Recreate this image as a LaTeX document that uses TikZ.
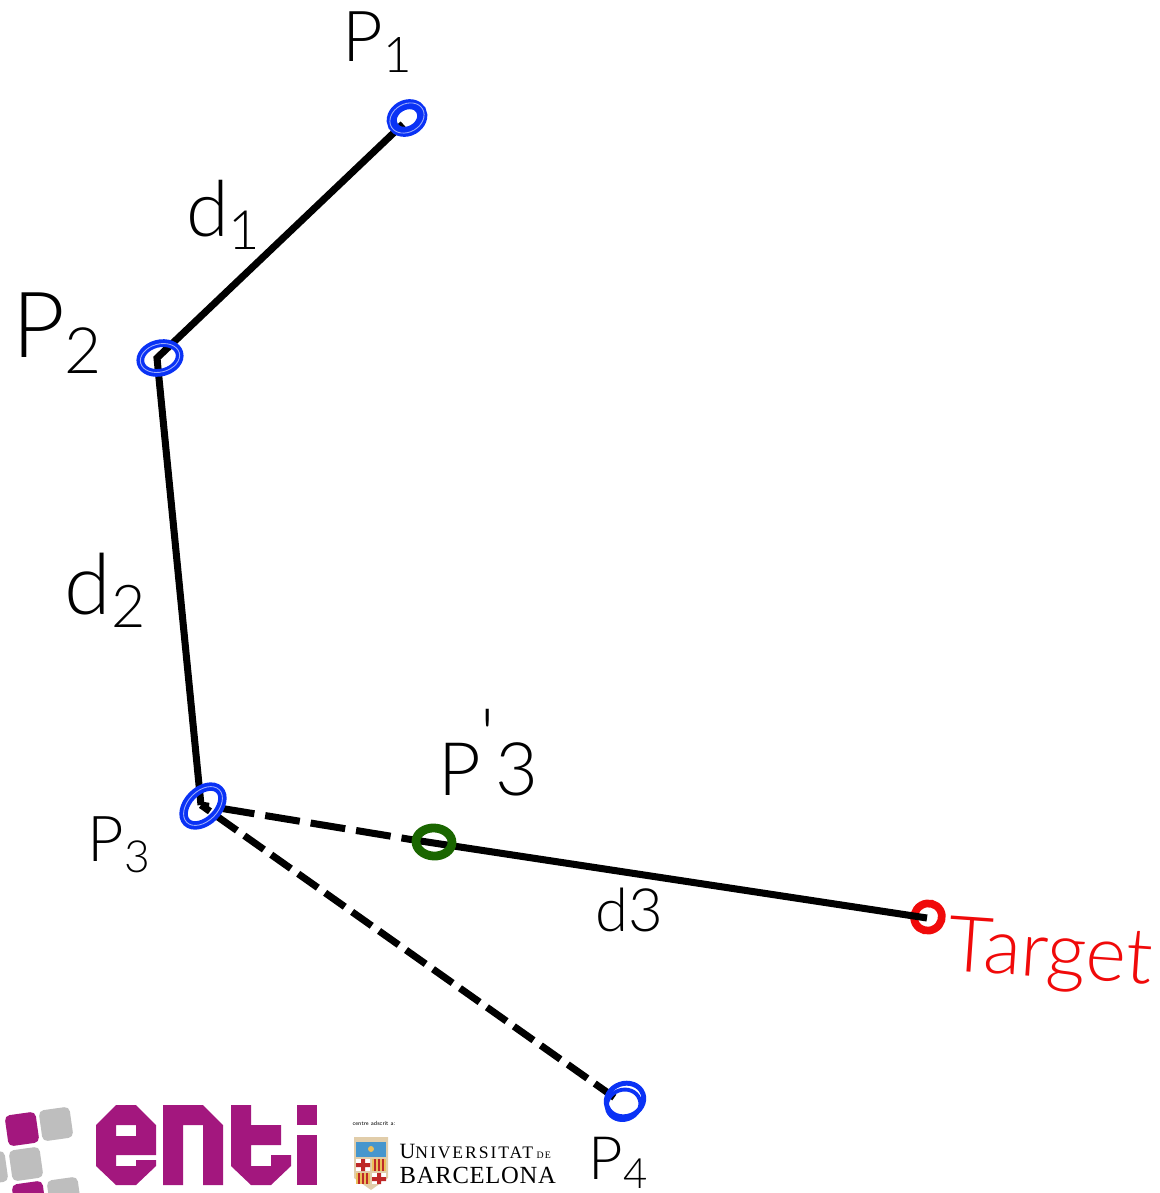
\documentclass[tikz,border=0pt]{standalone}
\usepackage{fontspec}
\usepackage{tikz}
\usetikzlibrary{positioning, shapes.geometric}
\newfontfamily\handfont{Lato Light}
\newfontfamily\logofont{Liberation Serif}
\definecolor{jointblue}{RGB}{10,50,245}
\definecolor{jointgreen}{RGB}{26,102,0}
\definecolor{jointred}{RGB}{240,10,10}
\definecolor{entipurple}{RGB}{163,23,126}
\definecolor{tilegrey}{RGB}{190,190,190}
\definecolor{shieldtan}{RGB}{225,205,170}
\definecolor{shieldblue}{RGB}{70,150,205}
\definecolor{shieldred}{RGB}{190,40,40}
\definecolor{shieldgold}{RGB}{235,190,90}

\begin{document}
\begin{tikzpicture}[
    x=0.01cm, y=-0.01cm,
    limb/.style={line width=2pt, black},
    ring/.style={draw, ellipse, inner sep=0pt, line width=2.2pt},
    scrib/.style={line width=0.25pt, white, opacity=0.6},
    hand/.style={font=\handfont, inner sep=0pt},
    tile/.style={minimum size=0.31cm, inner sep=0pt, rounded corners=0.05cm}
]
\useasboundingbox (0,0) rectangle (1160,1193);
\clip (0,0) rectangle (1160,1193);

% --- Line ends ---
\coordinate (j1) at (403,124);
\coordinate (j2) at (157,358);
\coordinate (j3) at (201,805);
\coordinate (j4) at (618,1100);
\coordinate (jg) at (414,840);
\coordinate (jt) at (927,918);

% --- Target joint sits under the line ---
\node[ring, jointred, minimum width=0.28cm, minimum height=0.27cm, rotate=30] (target) at (928,917) {};

% --- Links ---
\draw[limb] (j1) -- (j2) -- (j3);
\draw[limb, dash pattern=on 6.83pt off 2.56pt, dash phase=3.7pt] (j3) -- (j4);
\draw[limb, dash pattern=on 9.96pt off 3.13pt, dash phase=7.68pt] (j3) -- (jg);
\draw[limb] (jg) -- (jt);

% --- Joints ---
\node[ring, jointgreen, line width=2.5pt, minimum width=0.36cm, minimum height=0.28cm, rotate=-3] (p3b) at (434,842) {};
\node[ring, jointblue, line width=2.85pt, minimum width=0.32cm, minimum height=0.26cm, rotate=30] (p1) at (407,118) {};
\node[ring, jointblue, minimum width=0.40cm, minimum height=0.29cm, rotate=15] (p2) at (160,358) {};
\node[ring, jointblue, line width=2.4pt, minimum width=0.46cm, minimum height=0.30cm, rotate=45] (p3) at (203,806) {};
\node[ring, jointblue, line width=1.4pt, minimum width=0.38cm, minimum height=0.33cm, rotate=20] (p4) at (625,1100) {};

% extra pen strokes
\draw[scrib, rotate around={30:(p1)}] (p1) ellipse (18 and 14);
\draw[scrib, rotate around={15:(p2)}] (p2) ellipse (20 and 14);
\draw[scrib, rotate around={45:(p3)}] (p3) ellipse (23 and 15);
\draw[jointblue, line width=1.1pt, rotate around={20:(p4)}] (622,1104) ellipse (17 and 15);

% --- Labels ---
\node[hand, font=\handfont\fontsize{20}{20}\selectfont] (lp1) at (378,42) {P\textsubscript{1}};
\node[hand, font=\handfont\fontsize{26}{26}\selectfont] (lp2) at (58,333) {P\textsubscript{2}};
\node[hand, font=\handfont\fontsize{18}{18}\selectfont] (lp3) at (120,845) {P\textsubscript{3}};
\node[hand, font=\handfont\fontsize{17}{17}\selectfont] (lp4) at (619,1163) {P\textsubscript{4}};
\node[hand, anchor=base, font=\handfont\fontsize{21}{21}\selectfont] (lp3b) at (488,795) {P\raisebox{0.45em}{'}3};
\node[hand, font=\handfont\fontsize{22}{22}\selectfont] (ld1) at (224,215) {d\textsubscript{1}};
\node[hand, font=\handfont\fontsize{24}{24}\selectfont] (ld2) at (106,590) {d\textsubscript{2}};
\node[hand, font=\handfont\fontsize{17}{17}\selectfont] (ld3) at (629,910) {d3};
\node[hand, jointred, rotate=-4, font=\handfont\fontsize{22}{22}\selectfont] (ltarget) at (1050,957) {Target};

% --- Logo tiles ---
\node[tile, fill=entipurple, rotate=8] (tile1) at (22,1129) {};
\node[tile, fill=tilegrey, rotate=8] (tile2) at (56,1124) {};
\node[tile, fill=tilegrey, rotate=8] (tile3) at (26,1164) {};
\node[tile, fill=tilegrey, rotate=8] (tile4) at (-9,1168) {};
\node[tile, fill=entipurple, rotate=8] (tile5) at (29,1198) {};
\node[tile, fill=tilegrey, rotate=8] (tile6) at (64,1194) {};

% --- Logo letters ---
\fill[entipurple, even odd rule] (116,1105) -- (136,1105) -- (156,1125) -- (156,1155) -- (116,1155)
    -- (116,1166) -- (136,1166) -- (136,1160) -- (156,1160) -- (156,1166) -- (136,1185) -- (116,1185)
    -- (96,1166) -- (96,1125) -- cycle (116,1125) rectangle (136,1136);
\fill[entipurple] (163,1105) -- (203,1105) -- (223,1125) -- (223,1185) -- (203,1185) -- (203,1125)
    -- (183,1125) -- (183,1185) -- (163,1185) -- cycle;
\fill[entipurple] (231,1105) -- (251,1105) -- (251,1125) -- (281,1125) -- (281,1145) -- (251,1145)
    -- (251,1166) -- (271,1166) -- (271,1155) -- (291,1155) -- (291,1166) -- (271,1185) -- (251,1185)
    -- (231,1166) -- cycle;
\fill[entipurple] (297,1105) rectangle (317,1125);
\fill[entipurple] (297,1135) rectangle (317,1185);

% --- University mark ---
\node[font=\sffamily\fontsize{1.7}{2}\selectfont, inner sep=0pt] (adscrit) at (374,1123) {centre adscrit a:};
\fill[shieldtan] (354,1137) -- (388,1137) -- (388,1178) -- (371,1190) -- (354,1178) -- cycle;
\fill[shieldblue] (356,1142) rectangle (386,1157);
\fill[shieldgold] (371,1149) circle (3);
\fill[white] (356,1159) rectangle (370,1171);
\fill[shieldgold] (372,1159) rectangle (386,1171);
\fill[shieldgold] (356,1173) rectangle (370,1184);
\fill[white] (372,1173) rectangle (386,1184);
\fill[shieldred] (361,1159) rectangle (365,1171) (356,1163) rectangle (370,1167);
\fill[shieldred] (377,1173) rectangle (381,1184) (372,1177) rectangle (386,1181);
\foreach \xs in {374,378,382} {
    \fill[shieldred] (\xs,1159) rectangle ++(2,12);
    \fill[shieldred] (\xs-16,1173) rectangle ++(2,11);
}
\node[anchor=base west, inner sep=0pt, font=\logofont\fontsize{6.2}{7}\selectfont] (ub1) at (399,1158)
    {U\addfontfeature{LetterSpace=11}{\fontsize{5}{6}\selectfont NIVERSITAT}\,{\fontsize{2.8}{3}\selectfont DE}};
\node[anchor=base west, inner sep=0pt, font=\logofont\fontsize{7}{8}\selectfont\addfontfeature{LetterSpace=3}] (ub2) at (399,1183) {BARCELONA};

\end{tikzpicture}
\end{document}
